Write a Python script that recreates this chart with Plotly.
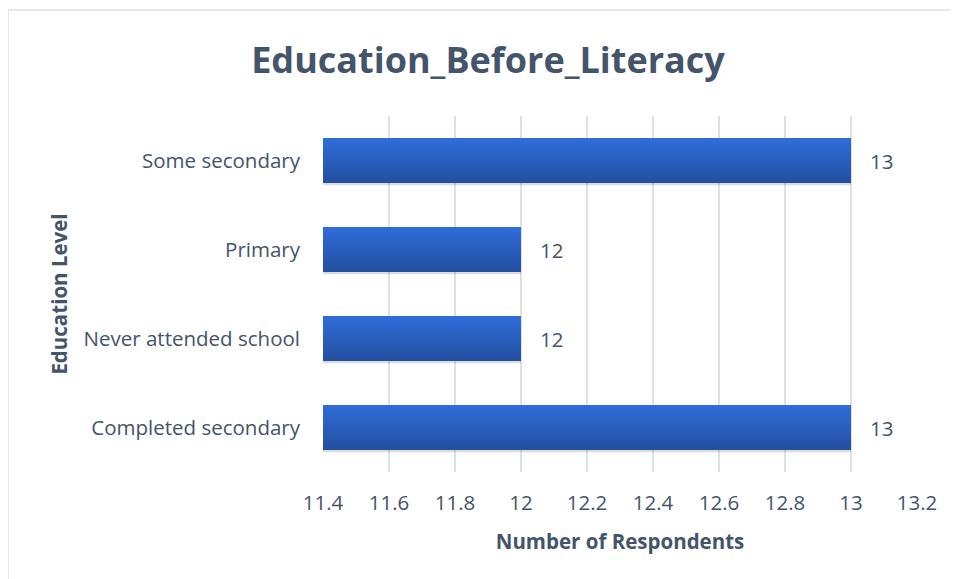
import plotly.graph_objects as go

categories = ["Completed secondary", "Never attended school", "Primary", "Some secondary"]
respondents = [13, 12, 12, 13]
x_ticks = [11.4, 11.6, 11.8, 12, 12.2, 12.4, 12.6, 12.8, 13, 13.2]
x_tick_labels = ["11.4", "11.6", "11.8", "12", "12.2", "12.4", "12.6", "12.8", "13", "13.2"]

TXT = "#44546A"
FONT = "Open Sans"
FS = 20.5
OFF = 8  # page body margin
W, H = 958 - OFF, 579 - OFF
ML, MR, MT, MB = 323 - OFF, 41, 116 - OFF, 107
PW, PH = W - ML - MR, H - MT - MB
BW = 0.505

def px_x(p):
    return (p - OFF - ML) / PW

def px_y(p):
    return (H - MB - (p - OFF)) / PH

TOP = (47, 108, 216)
BOT = (36, 80, 162)

fig = go.Figure()
# soft shadow
fig.add_trace(go.Bar(
    y=categories, x=respondents, orientation="h",
    width=BW, offset=-BW / 2 - 0.025,
    marker=dict(color="rgba(60,60,60,0.18)", line=dict(width=0)),
    hoverinfo="skip",
))
# vertical gradient built from stacked layers
N = 14
for i in range(N):
    t = i / (N - 1)
    c = tuple(round(BOT[k] + (TOP[k] - BOT[k]) * t) for k in range(3))
    frac = (N - i) / N
    w = BW * frac
    fig.add_trace(go.Bar(
        y=categories, x=respondents, orientation="h",
        width=w, offset=BW / 2 - w,
        marker=dict(color="rgb(%d,%d,%d)" % c, line=dict(width=0)),
        hoverinfo="skip",
    ))
# data labels
fig.add_trace(go.Bar(
    y=categories, x=respondents, orientation="h",
    width=BW,
    marker=dict(color="rgba(0,0,0,0)", line=dict(width=0)),
    text=respondents,
    texttemplate="   %{x}",
    textposition="outside",
    textfont=dict(family=FONT, size=FS, color=TXT),
    cliponaxis=False,
))

fig.update_layout(
    width=W, height=H,
    barmode="overlay",
    margin=dict(l=ML, r=MR, t=MT, b=MB),
    paper_bgcolor="white",
    plot_bgcolor="white",
    showlegend=False,
    title=dict(
        text="<b>Education_Before_Literacy</b>",
        font=dict(family=FONT, size=36, color=TXT),
        x=(488 - OFF) / W, xanchor="center",
        y=1 - (60 - OFF) / H, yanchor="middle",
    ),
    xaxis=dict(
        range=[11.4, 13.2],
        tickvals=x_ticks,
        ticktext=x_tick_labels,
        showgrid=True,
        gridcolor="#DCE1E8",
        gridwidth=1.5,
        zeroline=False,
        showline=False,
        ticks="",
        tickfont=dict(family=FONT, size=FS, color=TXT),
        ticklabelstandoff=16,
        title=dict(text="<b>Number of Respondents</b>",
                   font=dict(family=FONT, size=FS, color=TXT),
                   standoff=20),
    ),
    yaxis=dict(
        categoryorder="array",
        categoryarray=categories,
        showgrid=False,
        zeroline=False,
        showline=False,
        ticks="",
        tickfont=dict(family=FONT, size=FS, color=TXT),
        ticklabelstandoff=22,
        title=dict(text="<b>Education Level</b>",
                   font=dict(family=FONT, size=FS, color=TXT),
                   standoff=10),
    ),
    shapes=[dict(
        type="rect", xref="paper", yref="paper",
        x0=px_x(8), x1=px_x(958), y0=px_y(590), y1=px_y(10),
        line=dict(color="#DCE2EA", width=1.5), fillcolor="rgba(0,0,0,0)",
        layer="below",
    )],
)

fig.write_html("out.html")
